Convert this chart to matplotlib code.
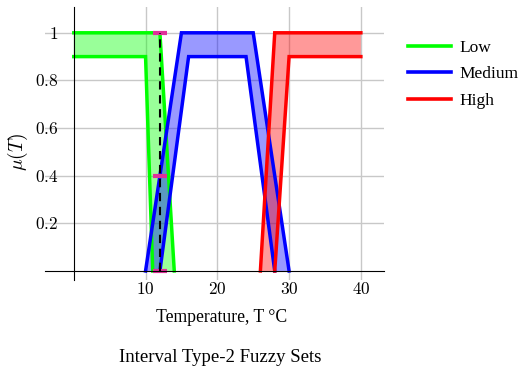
import matplotlib
matplotlib.use("Agg")
import matplotlib.pyplot as plt
from matplotlib.lines import Line2D

plt.rcParams['font.family'] = ['Liberation Serif', 'DejaVu Serif']
plt.rcParams['mathtext.fontset'] = 'cm'

# interval type-2 sets: upper (UMF) and lower (LMF) membership functions
low_umf_x = [0, 12, 14]
low_umf_y = [1, 1, 0]
low_lmf_x = [0, 10, 11]
low_lmf_y = [0.9, 0.9, 0]

med_umf_x = [10, 15, 25, 30]
med_umf_y = [0, 1, 1, 0]
med_lmf_x = [12, 16, 24, 28]
med_lmf_y = [0, 0.9, 0.9, 0]

high_umf_x = [26, 28, 40]
high_umf_y = [0, 1, 1]
high_lmf_x = [28, 30, 40]
high_lmf_y = [0, 0.9, 0.9]

input_x = 12
interval_y = [0, 0.4, 1]

xticks = [10, 20, 30, 40]
yticks = [0.2, 0.4, 0.6, 0.8, 1]
ytick_labels = ['0.2', '0.4', '0.6', '0.8', '1']

fig = plt.figure(figsize=(5.18, 3.72), dpi=100)
ax = fig.add_axes([0.087, 0.246, 0.654, 0.735])

sets = [
    ("Low", "#00ff00", low_umf_x, low_umf_y, low_lmf_x, low_lmf_y),
    ("Medium", "#0000ff", med_umf_x, med_umf_y, med_lmf_x, med_lmf_y),
    ("High", "#ff0000", high_umf_x, high_umf_y, high_lmf_x, high_lmf_y),
]
handles = []
for name, c, ux, uy, lx, ly in sets:
    # footprint of uncertainty as one polygon: UMF forward, LMF backward
    px = list(ux) + list(lx)[::-1]
    py = list(uy) + list(ly)[::-1]
    ax.fill(px, py, color=c, alpha=0.4, lw=0, zorder=2)
    ax.plot(ux, uy, color=c, lw=2.5, zorder=3, solid_joinstyle='miter')
    ax.plot(lx, ly, color=c, lw=2.5, zorder=3, solid_joinstyle='miter')
    handles.append(Line2D([], [], color=c, lw=2.6))

ax.hlines(interval_y, input_x - 1, input_x + 1, color='#e0309a', lw=3, zorder=4)
ax.plot([input_x, input_x], [0, 1], color='black', ls=(0, (4, 2.7)), lw=1.5, zorder=5)

ax.set_xlim(-4, 43.2)
ax.set_ylim(-0.04, 1.108)
ax.spines['top'].set_visible(False)
ax.spines['right'].set_visible(False)
ax.spines['left'].set_position(('data', 0))
ax.spines['bottom'].set_position(('data', 0))
ax.spines['left'].set_zorder(6)
ax.spines['bottom'].set_zorder(6)
ax.set_xticks(xticks)
ax.set_yticks(yticks)
ax.set_xticklabels(['$%d$' % t for t in xticks], fontsize=12.5)
ax.set_yticklabels(['$%s$' % t for t in ytick_labels], fontsize=12.5)
ax.tick_params(axis='both', length=0)
ax.tick_params(axis='x', pad=8)
ax.tick_params(axis='y', pad=11)
ax.grid(True, color='#c8c8c8', lw=1.0, zorder=0)
ax.set_axisbelow(True)

ax.text(-7.8, 0.5, r'$\mu(T)$', rotation=90, ha='center', va='center', fontsize=14)
fig.text(222 / 518, 1 - 318 / 372, 'Temperature, T °C', ha='center', va='center', fontsize=12.7)
fig.text(220 / 518, 1 - 357 / 372, 'Interval Type-2 Fuzzy Sets', ha='center', va='center', fontsize=13.5)

fig.legend(handles, [s[0] for s in sets], loc='upper left', bbox_to_anchor=(392 / 518, 1 - 24 / 372),
           frameon=False, fontsize=12.5, handlelength=2.5, handletextpad=0.46, labelspacing=0.6)

fig.savefig("out.png", dpi=100)
